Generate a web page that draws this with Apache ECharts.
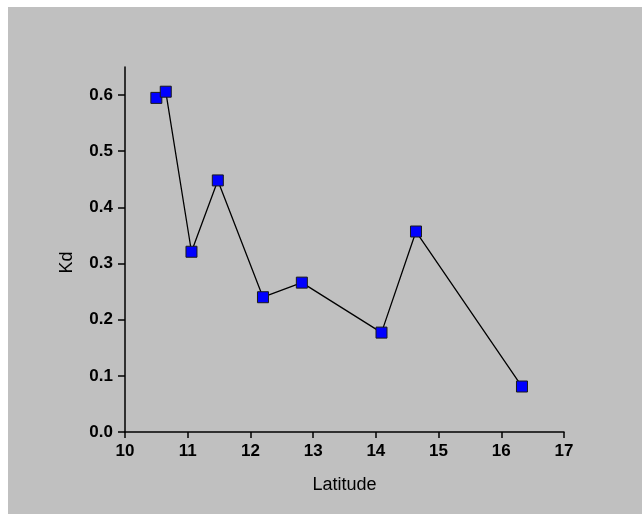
<!DOCTYPE html>
<html>
<head>
<meta charset="utf-8">
<script src="https://cdn.jsdelivr.net/npm/echarts@6/dist/echarts.min.js"></script>
<style>
  html, body { margin: 0; padding: 0; background: #ffffff; }
  #chart { position: absolute; left: 8px; top: 7px; width: 634px; height: 507px; }
</style>
</head>
<body>
<div id="chart"></div>
<script>
// Station latitude (°N) and attenuation coefficient Kd
const latitude = [10.50, 10.65, 11.06, 11.48, 12.20, 12.82, 14.09, 14.64, 16.33];
const kd = [0.595, 0.606, 0.321, 0.448, 0.240, 0.266, 0.177, 0.357, 0.081];
const xTicks = [10, 11, 12, 13, 14, 15, 16, 17];
const yTicks = [0, 0.1, 0.2, 0.3, 0.4, 0.5, 0.6];

const chart = echarts.init(document.getElementById('chart'), null, { renderer: 'canvas' });

const axisText = { color: '#000', fontFamily: 'Liberation Sans, Arial, sans-serif', fontWeight: 'bold', fontSize: 17 };
const nameText = { color: '#000', fontFamily: 'Liberation Sans, Arial, sans-serif', fontSize: 18 };
const axisLine = { show: true, lineStyle: { color: '#000', width: 1.5 } };

chart.setOption({
  backgroundColor: '#c0c0c0',
  animation: false,
  grid: { left: 117, right: 78, top: 60, bottom: 82 },
  xAxis: {
    type: 'value',
    min: 10, max: 17, interval: 1,
    name: 'Latitude',
    nameLocation: 'middle',
    nameGap: 44,
    nameTextStyle: nameText,
    axisLine: axisLine,
    axisTick: { show: true, length: 6, inside: false, lineStyle: { color: '#000', width: 1.5 } },
    axisLabel: Object.assign({ margin: 11, formatter: v => String(v), customValues: xTicks }, axisText),
    splitLine: { show: false }
  },
  yAxis: {
    type: 'value',
    min: 0, max: 0.65, interval: 0.1,
    name: 'Kd',
    nameLocation: 'middle',
    nameGap: 49,
    nameRotate: 90,
    nameTextStyle: Object.assign({ padding: [0, 26, 0, 0] }, nameText),
    axisLine: axisLine,
    axisTick: { show: true, length: 7, inside: false, customValues: yTicks, lineStyle: { color: '#000', width: 1.5 } },
    axisLabel: Object.assign({ margin: 12, formatter: v => v.toFixed(1), customValues: yTicks }, axisText),
    splitLine: { show: false }
  },
  series: [{
    type: 'line',
    data: latitude.map((x, i) => [x, kd[i]]),
    symbol: 'rect',
    symbolSize: 11,
    showAllSymbol: true,
    lineStyle: { color: '#000', width: 1.3 },
    itemStyle: { color: '#0000ff', borderColor: '#1a1a1a', borderWidth: 1 },
    emphasis: { disabled: true }
  }]
});
</script>
</body>
</html>
